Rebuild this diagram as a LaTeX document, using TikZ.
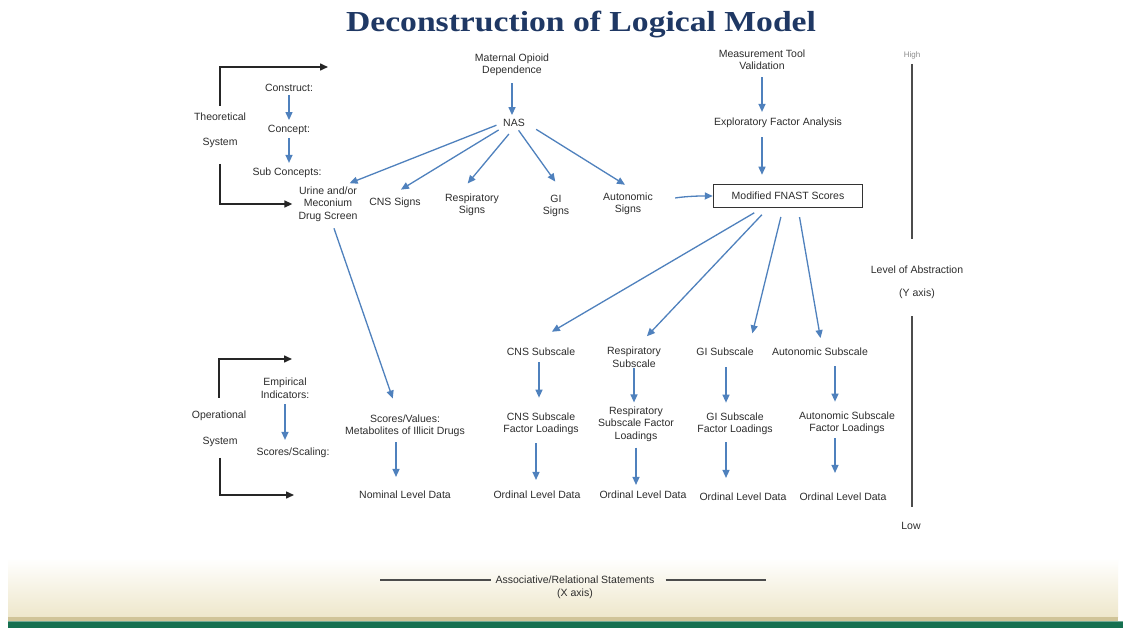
\documentclass[tikz,border=0pt]{standalone}
\usepackage{fontspec}
\usepackage{graphicx}
\setmainfont{Liberation Sans}
\newfontfamily\titlefont{Liberation Serif}
\usetikzlibrary{arrows.meta}
\definecolor{txt}{RGB}{45,45,45}
\definecolor{arrblue}{RGB}{79,129,189}
\definecolor{titleblue}{RGB}{31,56,100}
\definecolor{cream}{RGB}{238,231,203}
\definecolor{tanline}{RGB}{208,196,152}
\definecolor{bandgreen}{RGB}{22,112,80}
\begin{document}
\begin{tikzpicture}[x=1pt,y=-1pt,
  lbl/.style={font=\fontsize{10.5}{12.5}\selectfont, text=txt, align=center, inner sep=1pt},
  bl/.style={draw=arrblue, line width=1.3pt, -{Triangle[length=8pt,width=7pt]}},
  bk/.style={draw=black!85, line width=1.5pt, -{Triangle[length=8pt,width=7pt]}},
  axisline/.style={draw=black!70, line width=1.5pt}]
\useasboundingbox (0,0) rectangle (1123,628);
\fill[white] (0,0) rectangle (1123,628);
% bottom band
\shade[top color=white, bottom color=cream] (8,558) rectangle (1118,617);
\fill[tanline] (8,617) rectangle (1118,621);
\fill[bandgreen] (8,621) rectangle (1123,628);
\fill[bandgreen!60!white] (8,621) rectangle (1123,622);
% title
\node[font=\titlefont\bfseries\fontsize{29}{32}\selectfont, text=titleblue, inner sep=0pt] (title) at (581,24) {\scalebox{1.16}[1]{Deconstruction of Logical Model}};
% left labels
\node[lbl] (theo) at (220,117) {Theoretical};
\node[lbl] (theosys) at (220,143) {System};
\node[lbl] (construct) at (289,88) {Construct:};
\node[lbl] (concept) at (289,130) {Concept:};
\node[lbl] (subc) at (287,173) {Sub Concepts:};
\node[lbl] (oper) at (219,416) {Operational};
\node[lbl] (opsys) at (220,442) {System};
\node[lbl] (emp) at (285,388) {Empirical\\Indicators:};
\node[lbl] (scsc) at (293,453) {Scores/Scaling:};
% upper nodes
\node[lbl] (mat) at (512,65) {Maternal Opioid\\Dependence};
\node[lbl] (nas) at (514,123) {NAS};
\node[lbl] (urine) at (328,204) {Urine and/or\\Meconium\\Drug Screen};
\node[lbl] (cnss) at (395,203) {CNS Signs};
\node[lbl] (resps) at (472,205) {Respiratory\\Signs};
\node[lbl] (gis) at (556,206) {GI\\Signs};
\node[lbl] (autos) at (628,204) {Autonomic\\Signs};
\node[lbl] (mtv) at (762,60) {Measurement Tool\\Validation};
\node[lbl] (efa) at (778,123) {Exploratory Factor Analysis};
\node[lbl, draw=black!80, line width=1.5pt, minimum width=149pt, minimum height=23pt] (fnast) at (788,196) {Modified FNAST Scores};
% lower nodes
\node[lbl] (scval) at (405,426) {Scores/Values:\\Metabolites of Illicit Drugs};
\node[lbl] (nom) at (405,495) {Nominal Level Data};
\node[lbl] (cnssub) at (541,352) {CNS Subscale};
\node[lbl] (respsub) at (634,357) {Respiratory\\Subscale};
\node[lbl] (gisub) at (725,352) {GI Subscale};
\node[lbl] (autosub) at (820,352) {Autonomic Subscale};
\node[lbl] (cnsfl) at (541,424) {CNS Subscale\\Factor Loadings};
\node[lbl] (respfl) at (636,424) {Respiratory\\Subscale Factor\\Loadings};
\node[lbl] (gifl) at (735,424) {GI Subscale\\Factor Loadings};
\node[lbl] (autofl) at (847,423) {Autonomic Subscale\\Factor Loadings};
\node[lbl] (ord1) at (537,495) {Ordinal Level Data};
\node[lbl] (ord2) at (643,495) {Ordinal Level Data};
\node[lbl] (ord3) at (743,497) {Ordinal Level Data};
\node[lbl] (ord4) at (843,497) {Ordinal Level Data};
% axes labels
\node[lbl, font=\fontsize{8}{9}\selectfont, text=black!45] (high) at (912,55) {High};
\node[lbl] (loa) at (917,270) {Level of Abstraction};
\node[lbl] (yaxis) at (917,294) {(Y axis)};
\node[lbl] (low) at (911,526) {Low};
\node[lbl] (assoc) at (575,580) {Associative/Relational Statements};
\node[lbl] (xaxis) at (575,594) {(X axis)};
\coordinate (tt) at (328,67);
\coordinate (ot) at (292,359);
\coordinate (ob) at (294,495);
\coordinate (xl) at (380,580);
\coordinate (xr) at (766,580);
% black brackets
\draw[bk, shorten <=6pt] (theo.north) |- (tt);
\draw[bk, shorten <=15pt, shorten >=5pt] (theosys.south) |- (urine.west);
\draw[bk, shorten <=12pt] (oper.north) |- (ot);
\draw[bk, shorten <=10pt] (opsys.south) |- (ob);
% left blue arrows
\draw[bl, shorten <=2pt, shorten >=4pt] (construct.south) -- (construct.south |- concept.north);
\draw[bl, shorten <=2pt, shorten >=4pt] (concept.south) -- (concept.south |- subc.north);
\draw[bl, shorten <=5pt, shorten >=7pt] (emp.south) -- (emp.south |- scsc.north);
% NAS fan
\draw[bl, shorten <=6pt, shorten >=3pt] (mat.south) -- (mat.south |- nas.north);
\draw[bl, shorten <=6pt, shorten >=6pt] (nas.west) -- ([xshift=16pt]urine.north);
\draw[bl, shorten <=4pt, shorten >=14pt] (nas.south west) -- ([xshift=-6pt]cnss.north);
\draw[bl, shorten <=8pt, shorten >=12pt] (nas.south) -- ([xshift=-12pt]resps.north);
\draw[bl, shorten <=3pt, shorten >=15pt] (nas.-60) -- ([xshift=8pt]gis.north);
\draw[bl, shorten <=12pt, shorten >=13pt] (nas.east) -- ([xshift=8pt]autos.north);
% right column
\draw[bl, shorten <=6pt, shorten >=5pt] (mtv.south) -- (mtv.south |- efa.north);
\draw[bl, shorten <=8pt, shorten >=9pt] (mtv.south |- efa.south) -- (mtv.south |- fnast.north);
\draw[bl, shorten <=22pt] (autos.east) to[bend left=8] (fnast.west);
% FNAST fan
\draw[bl, shorten <=9pt, shorten >=30pt] ([xshift=-26pt]fnast.south) -- ([xshift=-15pt]cnssub.north);
\draw[bl, shorten <=9pt, shorten >=13pt] ([xshift=-20pt]fnast.south) -- ([xshift=4pt]respsub.north);
\draw[bl, shorten <=9pt, shorten >=14pt] ([xshift=-5pt]fnast.south) -- ([xshift=24pt]gisub.north);
\draw[bl, shorten <=9pt, shorten >=9pt] ([xshift=10pt]fnast.south) -- ([xshift=2pt]autosub.north);
% urine to scores/values
\draw[bl, shorten <=6pt, shorten >=16pt] ([xshift=4pt]urine.south) -- ([xshift=-7pt]scval.north);
\draw[bl, shorten <=4pt, shorten >=13pt] ([xshift=-9pt]scval.south) -- ([xshift=-9pt]nom.north);
% subscale columns
\draw[bl, shorten <=5pt, shorten >=14pt] ([xshift=-2pt]cnssub.south) -- ([xshift=-2pt]cnssub.south |- cnsfl.north);
\draw[bl, shorten <=7pt, shorten >=10pt] ([xshift=-5pt]cnsfl.south) -- ([xshift=-5pt]cnsfl.south |- ord1.north);
\draw[bl, shorten <=0pt, shorten >=3pt] (respsub.south) -- (respsub.south |- respfl.north);
\draw[bl, shorten <=5pt, shorten >=5pt] (respfl.south) -- (respfl.south |- ord2.north);
\draw[bl, shorten <=10pt, shorten >=9pt] ([xshift=1pt]gisub.south) -- ([xshift=1pt]gisub.south |- gifl.north);
\draw[bl, shorten <=6pt, shorten >=14pt] ([xshift=-9pt]gifl.south) -- ([xshift=-9pt]gifl.south |- ord3.north);
\draw[bl, shorten <=9pt, shorten >=9pt] ([xshift=15pt]autosub.south) -- ([xshift=15pt]autosub.south |- autofl.north);
\draw[bl, shorten <=3pt, shorten >=19pt] ([xshift=-12pt]autofl.south) -- ([xshift=-12pt]autofl.south |- ord4.north);
% axes
\draw[axisline, shorten <=4pt, shorten >=26pt] (high.south) -- (high.south |- loa.north);
\draw[axisline, shorten <=16pt, shorten >=14pt] (high.south |- yaxis.south) -- (high.south |- low.north);
\draw[axisline, shorten >=3pt] (xl) -- (assoc.west);
\draw[axisline, shorten <=10pt] (assoc.east) -- (xr);
\end{tikzpicture}
\end{document}
